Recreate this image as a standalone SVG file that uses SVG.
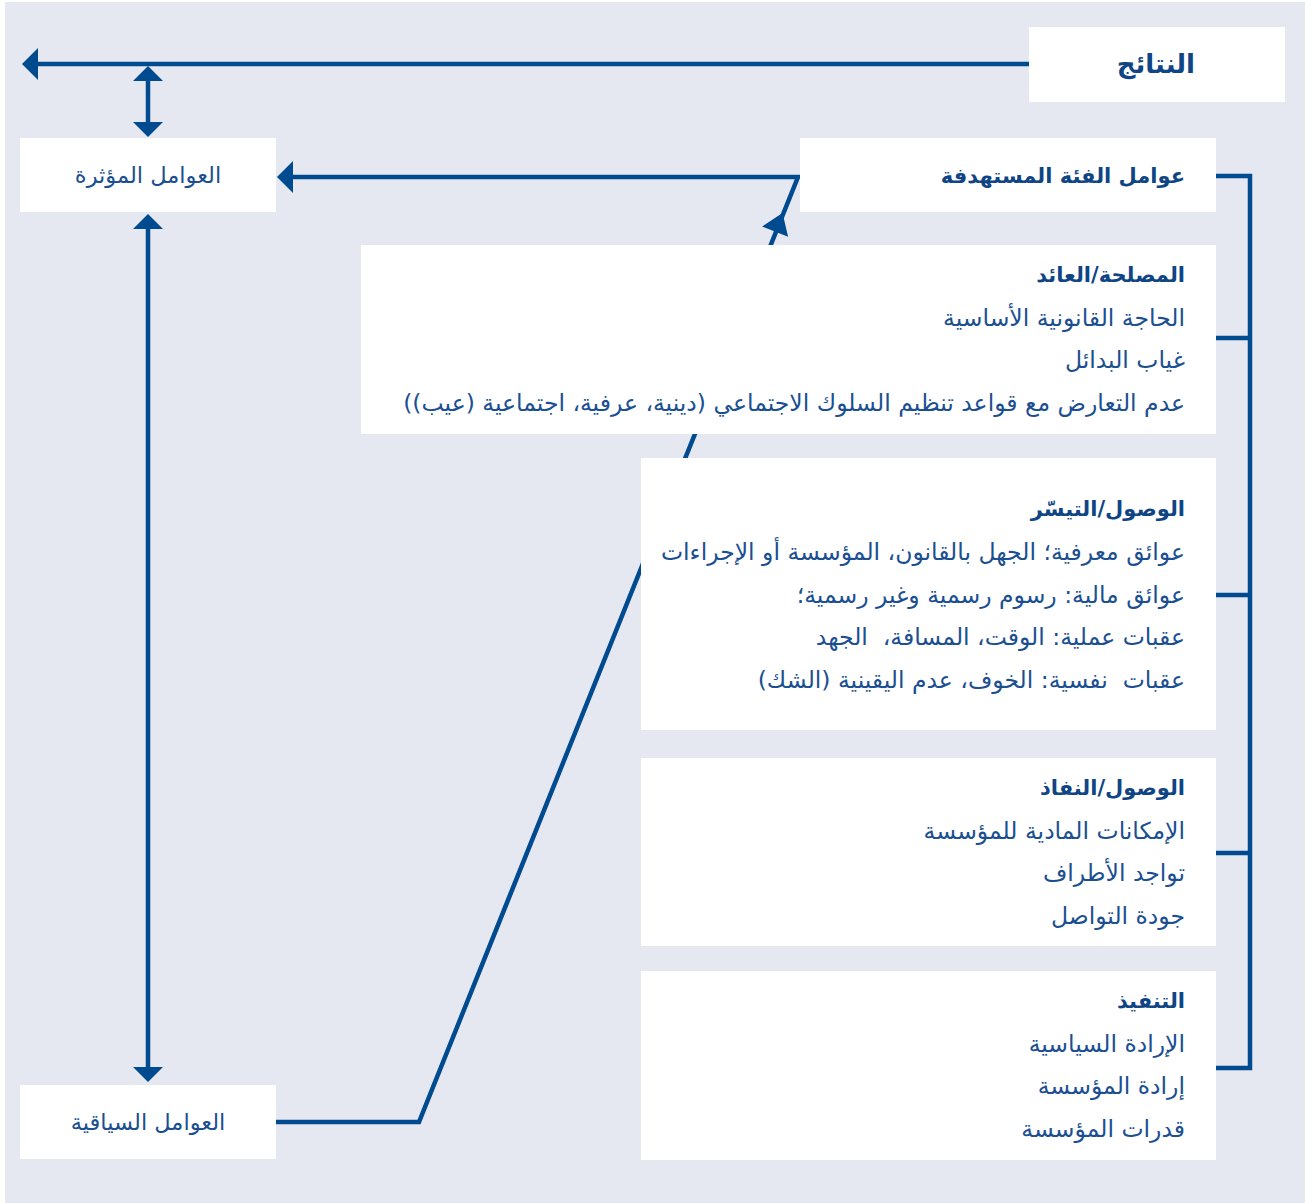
<svg xmlns="http://www.w3.org/2000/svg" width="1311" height="1203" viewBox="0 0 1311 1203">
<style>
.box{fill:#ffffff}
.t{font-family:"DejaVu Sans",sans-serif;font-size:23.5px;fill:#1b4f91;direction:rtl;text-anchor:start;white-space:pre}
.h{font-weight:bold;fill:#0f4584;font-size:21px}
.c{text-anchor:middle;font-size:22.5px}
.ln{fill:none;stroke:#004a8f;stroke-width:4.5}
.ah{fill:#004a8f}
</style>
<rect x="5" y="2" width="1300" height="1201" fill="#e5e8f1"/>

<g id="connectors">
  <line class="ln" x1="1030" y1="64" x2="36" y2="64"/>
  <path class="ah" d="M22,64 L38,48 L38,80 z"/>
  <line class="ln" x1="148" y1="78" x2="148" y2="124"/>
  <path class="ah" d="M148,66 L133,81 L163,81 z"/>
  <path class="ah" d="M148,137 L133,122 L163,122 z"/>
  <line class="ln" x1="148" y1="227" x2="148" y2="1068"/>
  <path class="ah" d="M148,214 L133,229 L163,229 z"/>
  <path class="ah" d="M148,1082 L133,1067 L163,1067 z"/>
  <polyline class="ln" points="276,1122 419,1122 798,177 292,177"/>
  <path class="ah" d="M277,177 L293,161 L293,193 z"/>
  <path class="ah" d="M782.5,213 L788.1,236.8 L762.1,226.4 z"/>
  <polyline class="ln" points="1216,176 1250,176 1250,1068 1216,1068"/>
  <line class="ln" x1="1216" y1="338" x2="1250" y2="338"/>
  <line class="ln" x1="1216" y1="595" x2="1250" y2="595"/>
  <line class="ln" x1="1216" y1="853" x2="1250" y2="853"/>
</g>

<g id="results">
  <rect class="box" x="1029" y="27" width="256" height="75"/>
  <text class="t h" x="1195" y="73" style="font-size:26px">النتائج</text>
</g>
<g id="influencing">
  <rect class="box" x="20" y="138" width="256" height="74"/>
  <text class="t c" x="148" y="183">العوامل المؤثرة</text>
</g>
<g id="target">
  <rect class="box" x="800" y="138" width="416" height="74"/>
  <text class="t h" x="1185" y="183">عوامل الفئة المستهدفة</text>
</g>
<g id="interest">
  <rect class="box" x="361" y="245" width="855" height="189"/>
  <text class="t h" x="1185" y="282">المصلحة/العائد</text>
  <text class="t" x="1185" y="326">الحاجة القانونية الأساسية</text>
  <text class="t" x="1185" y="368">غياب البدائل</text>
  <text class="t" x="1185" y="411">عدم التعارض مع قواعد تنظيم السلوك الاجتماعي (دينية، عرفية، اجتماعية (عيب))</text>
</g>
<g id="facilitation">
  <rect class="box" x="641" y="458" width="575" height="272"/>
  <text class="t h" x="1185" y="516">الوصول/التيسّر</text>
  <text class="t" x="1185" y="560">عوائق معرفية؛ الجهل بالقانون، المؤسسة أو الإجراءات</text>
  <text class="t" x="1185" y="603">عوائق مالية: رسوم رسمية وغير رسمية؛</text>
  <text class="t" x="1185" y="645">عقبات عملية: الوقت، المسافة،  الجهد</text>
  <text class="t" x="1185" y="688">عقبات  نفسية: الخوف، عدم اليقينية (الشك)</text>
</g>
<g id="access">
  <rect class="box" x="641" y="758" width="575" height="188"/>
  <text class="t h" x="1185" y="795">الوصول/النفاذ</text>
  <text class="t" x="1185" y="839">الإمكانات المادية للمؤسسة</text>
  <text class="t" x="1185" y="881">تواجد الأطراف</text>
  <text class="t" x="1185" y="924">جودة التواصل</text>
</g>
<g id="implementation">
  <rect class="box" x="641" y="971" width="575" height="189"/>
  <text class="t h" x="1185" y="1008">التنفيذ</text>
  <text class="t" x="1185" y="1052">الإرادة السياسية</text>
  <text class="t" x="1185" y="1094">إرادة المؤسسة</text>
  <text class="t" x="1185" y="1137">قدرات المؤسسة</text>
</g>
<g id="contextual">
  <rect class="box" x="20" y="1085" width="256" height="74"/>
  <text class="t c" x="148" y="1130">العوامل السياقية</text>
</g>
</svg>
